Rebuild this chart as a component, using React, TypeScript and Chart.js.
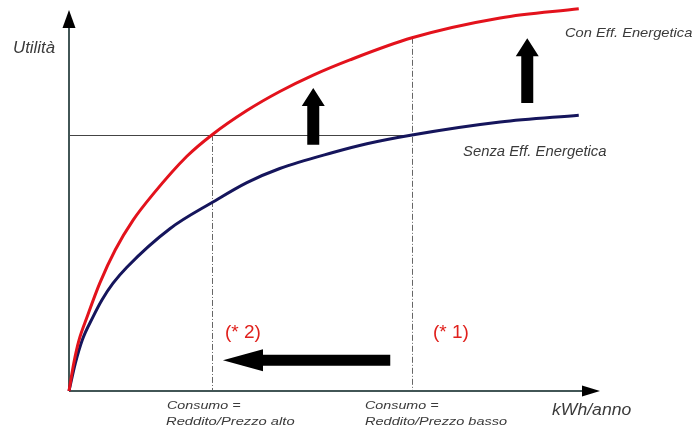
import { useEffect, useRef } from 'react';
import { Chart, registerables } from 'chart.js';

Chart.register(...registerables);

// Curva "Con Eff. Energetica" (consumo, utilità)
const conConsumo = [0, 0.9, 1.9, 3.4, 5.8, 8.7, 12.1, 15.8, 22.2, 26.9, 33.5, 39.7, 46.0, 52.9, 64.6, 81.2, 96.0];
const conUtilita = [0, 7.3, 13.4, 19.4, 28.3, 37.0, 44.9, 51.6, 61.6, 67.2, 73.6, 78.6, 82.9, 86.9, 92.7, 97.9, 100.3];

// Curva "Senza Eff. Energetica"
const senzaConsumo = [0, 1.2, 2.5, 4.5, 6.2, 8.3, 10.9, 19.0, 27.1, 33.5, 39.7, 49.7, 56.1, 64.6, 81.2, 96.0];
const senzaUtilita = [0, 7.3, 13.4, 19.4, 23.9, 28.3, 32.5, 42.6, 49.6, 54.7, 58.4, 62.6, 64.9, 67.2, 70.6, 72.4];

// Consumi di riferimento: prezzo alto (* 2) e prezzo basso (* 1)
const consumoAlto = 26.9;
const consumoBasso = 64.6;
const livelloUtilita = 67.2;
const utilitaConBasso = 92.7;

const etichette = {
  asseY: 'Utilità',
  asseX: 'kWh/anno',
  con: 'Con Eff. Energetica',
  senza: 'Senza Eff. Energetica',
  nota1: '(* 1)',
  nota2: '(* 2)',
  consumo: 'Consumo =',
  alto: 'Reddito/Prezzo alto',
  basso: 'Reddito/Prezzo basso',
};

const zip = (xs: number[], ys: number[]) => xs.map((x, i) => ({ x, y: ys[i] }));

function stretchText(ctx: CanvasRenderingContext2D, text: string, x: number, y: number, font: string, color: string, sx: number) {
  ctx.save();
  ctx.font = font;
  ctx.fillStyle = color;
  ctx.textBaseline = 'alphabetic';
  ctx.textAlign = 'left';
  ctx.translate(x, y);
  ctx.scale(sx, 1);
  ctx.fillText(text, 0, 0);
  ctx.restore();
}

function upArrow(ctx: CanvasRenderingContext2D, cx: number, yBottom: number, yTop: number) {
  const shaft = 6, head = 11.5, headLen = 18;
  ctx.beginPath();
  ctx.moveTo(cx - shaft, yBottom);
  ctx.lineTo(cx - shaft, yTop + headLen);
  ctx.lineTo(cx - head, yTop + headLen);
  ctx.lineTo(cx, yTop);
  ctx.lineTo(cx + head, yTop + headLen);
  ctx.lineTo(cx + shaft, yTop + headLen);
  ctx.lineTo(cx + shaft, yBottom);
  ctx.closePath();
  ctx.fill();
}

function leftArrow(ctx: CanvasRenderingContext2D, cy: number, xRight: number, xLeft: number) {
  const shaft = 5.5, head = 11, headLen = 40;
  ctx.beginPath();
  ctx.moveTo(xRight, cy - shaft);
  ctx.lineTo(xLeft + headLen, cy - shaft);
  ctx.lineTo(xLeft + headLen, cy - head);
  ctx.lineTo(xLeft, cy);
  ctx.lineTo(xLeft + headLen, cy + head);
  ctx.lineTo(xLeft + headLen, cy + shaft);
  ctx.lineTo(xRight, cy + shaft);
  ctx.closePath();
  ctx.fill();
}

const schemaPlugin = {
  id: 'schema',
  beforeDatasetsDraw(chart: any) {
    const { ctx, scales } = chart;
    const xs = scales.x, ys = scales.y;
    const x0 = xs.getPixelForValue(0), y0 = ys.getPixelForValue(0);
    ctx.save();
    // linea orizzontale del livello di utilità
    ctx.strokeStyle = '#444';
    ctx.lineWidth = 1;
    const hy = Math.round(ys.getPixelForValue(livelloUtilita)) + 0.5;
    ctx.beginPath();
    ctx.moveTo(x0, hy);
    ctx.lineTo(xs.getPixelForValue(consumoBasso), hy);
    ctx.stroke();
    // verticali tratteggiate
    ctx.strokeStyle = '#666';
    ctx.setLineDash([6, 2, 1, 2]);
    const vx1 = Math.round(xs.getPixelForValue(consumoAlto)) + 0.5;
    ctx.beginPath();
    ctx.moveTo(vx1, ys.getPixelForValue(livelloUtilita));
    ctx.lineTo(vx1, y0);
    ctx.stroke();
    const vx2 = Math.round(xs.getPixelForValue(consumoBasso)) + 0.5;
    ctx.beginPath();
    ctx.moveTo(vx2, ys.getPixelForValue(utilitaConBasso));
    ctx.lineTo(vx2, y0);
    ctx.stroke();
    ctx.setLineDash([]);
    // assi
    ctx.strokeStyle = '#425656';
    ctx.fillStyle = '#000';
    ctx.lineWidth = 2;
    ctx.beginPath();
    ctx.moveTo(x0, y0);
    ctx.lineTo(x0, 28);
    ctx.moveTo(x0, y0);
    ctx.lineTo(583, y0);
    ctx.stroke();
    ctx.beginPath();
    ctx.moveTo(x0, 10);
    ctx.lineTo(x0 - 6.5, 28);
    ctx.lineTo(x0 + 6.5, 28);
    ctx.closePath();
    ctx.fill();
    ctx.beginPath();
    ctx.moveTo(600, y0);
    ctx.lineTo(582, y0 - 5.5);
    ctx.lineTo(582, y0 + 5.5);
    ctx.closePath();
    ctx.fill();
    ctx.restore();
  },
  afterDatasetsDraw(chart: any) {
    const { ctx, scales } = chart;
    const xs = scales.x, ys = scales.y;
    ctx.save();
    ctx.fillStyle = '#000';
    upArrow(ctx, xs.getPixelForValue(46), ys.getPixelForValue(64.6), ys.getPixelForValue(79.5));
    upArrow(ctx, xs.getPixelForValue(86.3), ys.getPixelForValue(75.6), ys.getPixelForValue(92.6));
    leftArrow(ctx, ys.getPixelForValue(8.1), xs.getPixelForValue(60.5), xs.getPixelForValue(29.0));

    const grey = '#3a3a3a';
    const red = '#e0201c';
    const ff = 'Arial, "Liberation Sans", sans-serif';
    stretchText(ctx, etichette.asseY, 13, 53, `italic 16px ${ff}`, grey, 1.05);
    stretchText(ctx, etichette.asseX, 552, 415, `italic 16px ${ff}`, grey, 1.1);
    stretchText(ctx, etichette.con, 565, 37, `italic 13px ${ff}`, grey, 1.13);
    stretchText(ctx, etichette.senza, 463, 156, `italic 14px ${ff}`, grey, 1.06);
    stretchText(ctx, etichette.nota2, 225, 338, `19px ${ff}`, red, 1.0);
    stretchText(ctx, etichette.nota1, 433, 338, `19px ${ff}`, red, 1.0);
    stretchText(ctx, etichette.consumo, 167, 409, `italic 11px ${ff}`, grey, 1.3);
    stretchText(ctx, etichette.alto, 166, 425, `italic 11px ${ff}`, grey, 1.34);
    stretchText(ctx, etichette.consumo, 365, 409, `italic 11px ${ff}`, grey, 1.3);
    stretchText(ctx, etichette.basso, 365, 425, `italic 11px ${ff}`, grey, 1.32);
    ctx.restore();
  },
};

export default function App() {
  const canvasRef = useRef<HTMLCanvasElement>(null);

  useEffect(() => {
    if (!canvasRef.current) return;
    const chart = new Chart(canvasRef.current, {
      type: 'line',
      data: {
        datasets: [
          {
            label: etichette.con,
            data: zip(conConsumo, conUtilita),
            borderColor: '#e3121c',
            borderWidth: 3,
            pointRadius: 0,
            cubicInterpolationMode: 'monotone',
            clip: false,
          },
          {
            label: etichette.senza,
            data: zip(senzaConsumo, senzaUtilita),
            borderColor: '#15155c',
            borderWidth: 3,
            pointRadius: 0,
            cubicInterpolationMode: 'monotone',
            clip: false,
          },
        ],
      },
      options: {
        responsive: false,
        animation: false,
        layout: { padding: { left: 69, right: 100, top: 10, bottom: 45 } },
        scales: {
          x: { type: 'linear', min: 0, max: 100, display: false },
          y: { min: 0, max: 100, display: false },
        },
        plugins: {
          legend: { display: false },
          tooltip: { enabled: false },
        },
      },
      plugins: [schemaPlugin],
    } as any);
    return () => chart.destroy();
  }, []);

  return (
    <div style={{ position: 'fixed', left: 0, top: 0, width: 700, height: 436, background: '#fff' }}>
      <canvas ref={canvasRef} width={700} height={436} />
    </div>
  );
}
